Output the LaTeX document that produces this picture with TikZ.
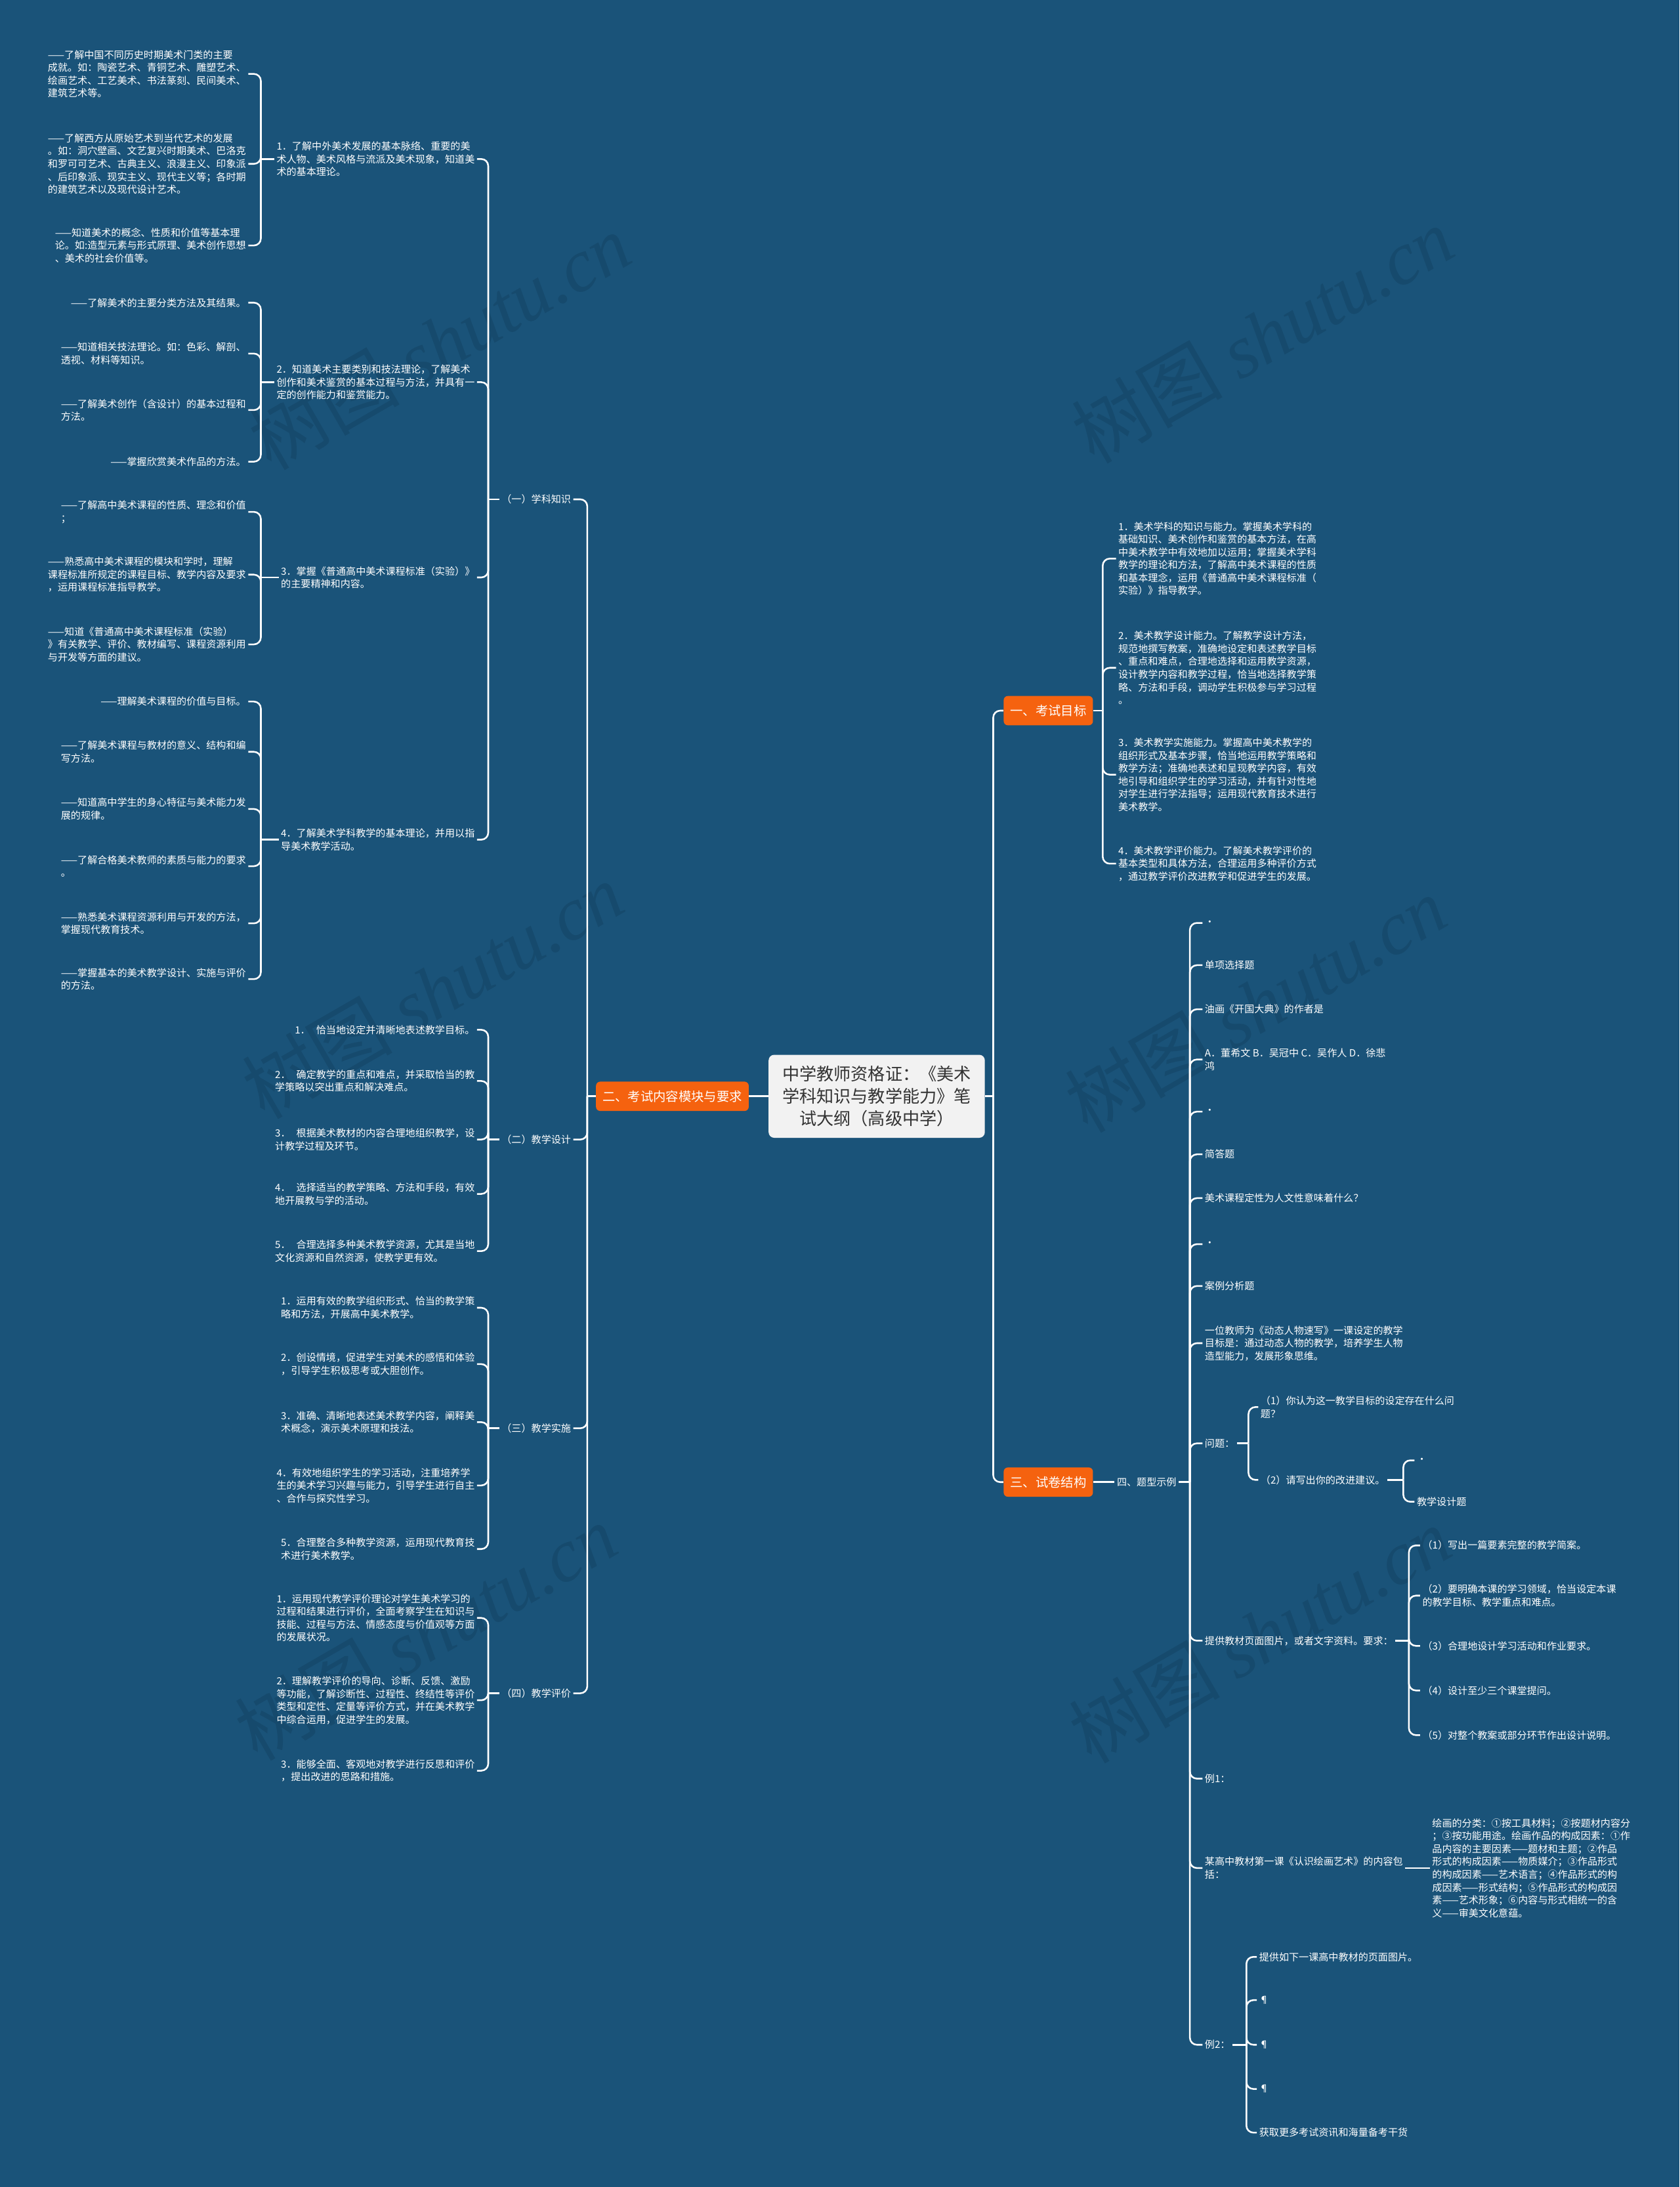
\documentclass[tikz,border=0pt]{standalone}
\usepackage{fontspec}
\setmainfont{Noto Sans CJK SC}
\newfontfamily\wmfont{Liberation Serif}
\definecolor{bgblue}{HTML}{1A5379}
\definecolor{wmblue}{HTML}{164A6D}
\definecolor{topicorange}{HTML}{F5620F}
\definecolor{rootgray}{HTML}{F2F2F2}
\definecolor{roottext}{HTML}{333333}

\begin{document}
\begin{tikzpicture}[x=1pt, y=-1pt,
    link/.style={draw=white, line width=1.2pt, rounded corners=5pt},
    txt/.style={text=white, align=left, inner sep=1.5pt, font=\fontsize{7.1}{9.2}\selectfont},
    lft/.style={txt, anchor=east},
    rgt/.style={txt, anchor=west},
    topic/.style={fill=topicorange, text=white, rounded corners=3pt, inner xsep=4.7pt,
        minimum height=21pt, font=\fontsize{9.1}{11}\selectfont},
    rootbox/.style={fill=rootgray, text=roottext, rounded corners=4pt, minimum width=155pt,
        minimum height=59.5pt, align=center, font=\fontsize{12.3}{16}\selectfont},
    wmark/.style={text=wmblue, rotate=30, font=\fontsize{54}{54}\selectfont}]

    \fill[bgblue] (0,0) rectangle (1204,1568);
    \useasboundingbox (0,0) rectangle (1204,1568);

    % Watermarks
    \foreach \wx/\wy [count=\i] in {315/245, 905/240, 310/710, 900/720, 305/1170, 903/1172}
        \node[wmark] (wm\i) at (\wx,\wy) {树图 {\wmfont\itshape shutu.cn}};

    % Root and main topics
    \node[rootbox] (root) at (628.5,786) {中学教师资格证：《美术\\学科知识与教学能力》笔\\试大纲（高级中学）};
    \node[topic] (goal) at (751.5,509.5) {一、考试目标};
    \node[topic] (content) at (482,786) {二、考试内容模块与要求};
    \node[topic] (paper) at (751.5,1062.6) {三、试卷结构};
    \coordinate (jr) at (712,786);
    \coordinate (jl) at (421,786);
    \draw[link] (root.west) -- (content.east);
    \draw[link] (root.east) -- (jr);
    \draw[link] (jr) |- (goal.west);
    \draw[link] (jr) |- (paper.west);
    \draw[link] (content.west) -- (jl);

    % Sections of topic two
    \node[lft] (sec1) at (411,358) {（一）学科知识};
    \node[lft] (sec2) at (411,817) {（二）教学设计};
    \node[lft] (sec3) at (411,1024) {（三）教学实施};
    \node[lft] (sec4) at (411,1214) {（四）教学评价};
    \foreach \n in {sec1,sec2,sec3,sec4}
        \draw[link] (jl) |- (\n.east);

    % (一) subject knowledge
    \node[lft] (k1) at (342,114) {1．了解中外美术发展的基本脉络、重要的美\\术人物、美术风格与流派及美术现象，知道美\\术的基本理论。};
    \node[lft] (k2) at (342,274) {2．知道美术主要类别和技法理论，了解美术\\创作和美术鉴赏的基本过程与方法，并具有一\\定的创作能力和鉴赏能力。};
    \node[lft] (k3) at (342,414) {3．掌握《普通高中美术课程标准（实验）》\\的主要精神和内容。};
    \node[lft] (k4) at (342,602) {4．了解美术学科教学的基本理论，并用以指\\导美术教学活动。};
    \coordinate (j1) at (350,358);
    \draw[link] (sec1.west) -- (j1);
    \foreach \n in {k1,k2,k3,k4}
        \draw[link] (j1) |- (\n.east);

    \node[lft] (l1a) at (178,53) {——了解中国不同历史时期美术门类的主要\\成就。如：陶瓷艺术、青铜艺术、雕塑艺术、\\绘画艺术、工艺美术、书法篆刻、民间美术、\\建筑艺术等。};
    \node[lft] (l1b) at (178,117.5) {——了解西方从原始艺术到当代艺术的发展\\。如：洞穴壁画、文艺复兴时期美术、巴洛克\\和罗可可艺术、古典主义、浪漫主义、印象派\\、后印象派、现实主义、现代主义等；各时期\\的建筑艺术以及现代设计艺术。};
    \node[lft] (l1c) at (178,176) {——知道美术的概念、性质和价值等基本理\\论。如:造型元素与形式原理、美术创作思想\\、美术的社会价值等。};
    \coordinate (jk1) at (187,114);
    \draw[link] (k1.west) -- (jk1);
    \foreach \n in {l1a,l1b,l1c}
        \draw[link] (jk1) |- (\n.east);

    \node[lft] (l2a) at (178,217) {——了解美术的主要分类方法及其结果。};
    \node[lft] (l2b) at (178,253.5) {——知道相关技法理论。如：色彩、解剖、\\透视、材料等知识。};
    \node[lft] (l2c) at (178,294) {——了解美术创作（含设计）的基本过程和\\方法。};
    \node[lft] (l2d) at (178,331) {——掌握欣赏美术作品的方法。};
    \coordinate (jk2) at (187,274);
    \draw[link] (k2.west) -- (jk2);
    \foreach \n in {l2a,l2b,l2c,l2d}
        \draw[link] (jk2) |- (\n.east);

    \node[lft] (l3a) at (178,367) {——了解高中美术课程的性质、理念和价值\\；};
    \node[lft] (l3b) at (178,412) {——熟悉高中美术课程的模块和学时，理解\\课程标准所规定的课程目标、教学内容及要求\\，运用课程标准指导教学。};
    \node[lft] (l3c) at (178,462) {——知道《普通高中美术课程标准（实验）\\》有关教学、评价、教材编写、课程资源利用\\与开发等方面的建议。};
    \coordinate (jk3) at (187,414);
    \draw[link] (k3.west) -- (jk3);
    \foreach \n in {l3a,l3b,l3c}
        \draw[link] (jk3) |- (\n.east);

    \node[lft] (l4a) at (178,503) {——理解美术课程的价值与目标。};
    \node[lft] (l4b) at (178,539) {——了解美术课程与教材的意义、结构和编\\写方法。};
    \node[lft] (l4c) at (178,580) {——知道高中学生的身心特征与美术能力发\\展的规律。};
    \node[lft] (l4d) at (178,621) {——了解合格美术教师的素质与能力的要求\\。};
    \node[lft] (l4e) at (178,662) {——熟悉美术课程资源利用与开发的方法，\\掌握现代教育技术。};
    \node[lft] (l4f) at (178,702) {——掌握基本的美术教学设计、实施与评价\\的方法。};
    \coordinate (jk4) at (187,602);
    \draw[link] (k4.west) -- (jk4);
    \foreach \n in {l4a,l4b,l4c,l4d,l4e,l4f}
        \draw[link] (jk4) |- (\n.east);

    % (二) teaching design
    \node[lft] (m1) at (342,738.3) {1．\hspace{.6em}恰当地设定并清晰地表述教学目标。};
    \node[lft] (m2) at (342,775) {2．\hspace{.6em}确定教学的重点和难点，并采取恰当的教\\学策略以突出重点和解决难点。};
    \node[lft] (m3) at (342,817) {3．\hspace{.6em}根据美术教材的内容合理地组织教学，设\\计教学过程及环节。};
    \node[lft] (m4) at (342,856) {4．\hspace{.6em}选择适当的教学策略、方法和手段，有效\\地开展教与学的活动。};
    \node[lft] (m5) at (342,897) {5．\hspace{.6em}合理选择多种美术教学资源，尤其是当地\\文化资源和自然资源，使教学更有效。};
    \coordinate (j2) at (350,817);
    \draw[link] (sec2.west) -- (j2);
    \foreach \n in {m1,m2,m3,m4,m5}
        \draw[link] (j2) |- (\n.east);

    % (三) teaching practice
    \node[lft] (n1) at (342,937.6) {1．运用有效的教学组织形式、恰当的教学策\\略和方法，开展高中美术教学。};
    \node[lft] (n2) at (342,978) {2．创设情境，促进学生对美术的感悟和体验\\，引导学生积极思考或大胆创作。};
    \node[lft] (n3) at (342,1019.6) {3．准确、清晰地表述美术教学内容，阐释美\\术概念，演示美术原理和技法。};
    \node[lft] (n4) at (342,1065) {4．有效地组织学生的学习活动，注重培养学\\生的美术学习兴趣与能力，引导学生进行自主\\、合作与探究性学习。};
    \node[lft] (n5) at (342,1110.6) {5．合理整合多种教学资源，运用现代教育技\\术进行美术教学。};
    \coordinate (j3) at (350,1024);
    \draw[link] (sec3.west) -- (j3);
    \foreach \n in {n1,n2,n3,n4,n5}
        \draw[link] (j3) |- (\n.east);

    % (四) teaching evaluation
    \node[lft] (p1) at (342,1160) {1．运用现代教学评价理论对学生美术学习的\\过程和结果进行评价，全面考察学生在知识与\\技能、过程与方法、情感态度与价值观等方面\\的发展状况。};
    \node[lft] (p2) at (342,1219) {2．理解教学评价的导向、诊断、反馈、激励\\等功能，了解诊断性、过程性、终结性等评价\\类型和定性、定量等评价方式，并在美术教学\\中综合运用，促进学生的发展。};
    \node[lft] (p3) at (342,1269.5) {3．能够全面、客观地对教学进行反思和评价\\，提出改进的思路和措施。};
    \coordinate (j4) at (350,1214);
    \draw[link] (sec4.west) -- (j4);
    \foreach \n in {p1,p2,p3}
        \draw[link] (j4) |- (\n.east);

    % Topic one: exam goals
    \node[rgt] (r1) at (800,400.5) {1．美术学科的知识与能力。掌握美术学科的\\基础知识、美术创作和鉴赏的基本方法，在高\\中美术教学中有效地加以运用；掌握美术学科\\教学的理论和方法，了解高中美术课程的性质\\和基本理念，运用《普通高中美术课程标准（\\实验）》指导教学。};
    \node[rgt] (r2) at (800,478.8) {2．美术教学设计能力。了解教学设计方法，\\规范地撰写教案，准确地设定和表述教学目标\\、重点和难点，合理地选择和运用教学资源，\\设计教学内容和教学过程，恰当地选择教学策\\略、方法和手段，调动学生积极参与学习过程\\。};
    \node[rgt] (r3) at (800,555.4) {3．美术教学实施能力。掌握高中美术教学的\\组织形式及基本步骤，恰当地运用教学策略和\\教学方法；准确地表述和呈现教学内容，有效\\地引导和组织学生的学习活动，并有针对性地\\对学生进行学法指导；运用现代教育技术进行\\美术教学。};
    \node[rgt] (r4) at (800,619.2) {4．美术教学评价能力。了解美术教学评价的\\基本类型和具体方法，合理运用多种评价方式\\，通过教学评价改进教学和促进学生的发展。};
    \coordinate (jg) at (790.5,509.5);
    \draw[link] (goal.east) -- (jg);
    \foreach \n in {r1,r2,r3,r4}
        \draw[link] (jg) |- (\n.west);

    % Topic three: paper structure
    \node[rgt] (type) at (799,1062.6) {四、题型示例};
    \draw[link] (paper.east) -- (type.west);
    \node[rgt] (q1) at (862,661.7) {·};
    \node[rgt] (q2) at (862,692) {单项选择题};
    \node[rgt] (q3) at (862,723.6) {油画《开国大典》的作者是};
    \node[rgt] (q4) at (862,759.6) {A．董希文 B．吴冠中 C．吴作人 D．徐悲\\鸿};
    \node[rgt] (q5) at (862,797) {·};
    \node[rgt] (q6) at (862,827.6) {简答题};
    \node[rgt] (q7) at (862,859) {美术课程定性为人文性意味着什么？};
    \node[rgt] (q8) at (862,892) {·};
    \node[rgt] (q9) at (862,922) {案例分析题};
    \node[rgt] (q10) at (862,963) {一位教师为《动态人物速写》一课设定的教学\\目标是：通过动态人物的教学，培养学生人物\\造型能力，发展形象思维。};
    \node[rgt] (q11) at (862,1034.8) {问题：};
    \node[rgt] (q12) at (862,1176.3) {提供教材页面图片，或者文字资料。要求：};
    \node[rgt] (q13) at (862,1275.2) {例1：};
    \node[rgt] (q14) at (862,1339.3) {某高中教材第一课《认识绘画艺术》的内容包\\括：};
    \node[rgt] (q15) at (862,1466) {例2：};
    \coordinate (jt) at (853,1062.6);
    \draw[link] (type.east) -- (jt);
    \foreach \n in {q1,q2,q3,q4,q5,q6,q7,q8,q9,q10,q11,q12,q13,q14,q15}
        \draw[link] (jt) |- (\n.west);

    % Questions
    \node[rgt] (q11a) at (902,1008.8) {（1）你认为这一教学目标的设定存在什么问\\题？};
    \node[rgt] (q11b) at (902,1061) {（2）请写出你的改进建议。};
    \coordinate (jq11) at (895,1034.8);
    \draw[link] (q11.east) -- (jq11);
    \foreach \n in {q11a,q11b}
        \draw[link] (jq11) |- (\n.west);

    \node[rgt] (q11c) at (1014,1047) {·};
    \node[rgt] (q11d) at (1014,1076.7) {教学设计题};
    \coordinate (jq11b) at (1006,1061);
    \draw[link] (q11b.east) -- (jq11b);
    \foreach \n in {q11c,q11d}
        \draw[link] (jq11b) |- (\n.west);

    % Requirements
    \node[rgt] (q12a) at (1018,1108) {（1）写出一篇要素完整的教学简案。};
    \node[rgt] (q12b) at (1018,1144) {（2）要明确本课的学习领域，恰当设定本课\\的教学目标、教学重点和难点。};
    \node[rgt] (q12c) at (1018,1180) {（3）合理地设计学习活动和作业要求。};
    \node[rgt] (q12d) at (1018,1212) {（4）设计至少三个课堂提问。};
    \node[rgt] (q12e) at (1018,1244) {（5）对整个教案或部分环节作出设计说明。};
    \coordinate (jq12) at (1010,1176.3);
    \draw[link] (q12.east) -- (jq12);
    \foreach \n in {q12a,q12b,q12c,q12d,q12e}
        \draw[link] (jq12) |- (\n.west);

    % Example 1
    \node[rgt] (q14a) at (1025,1339.3) {绘画的分类：①按工具材料；②按题材内容分\\；③按功能用途。绘画作品的构成因素：①作\\品内容的主要因素——题材和主题；②作品\\形式的构成因素——物质媒介；③作品形式\\的构成因素——艺术语言；④作品形式的构\\成因素——形式结构；⑤作品形式的构成因\\素——艺术形象；⑥内容与形式相统一的含\\义——审美文化意蕴。};
    \draw[link] (q14.east) -- (q14a.west);

    % Example 2
    \node[rgt] (q15a) at (901,1403) {提供如下一课高中教材的页面图片。};
    \node[rgt] (q15b) at (901,1434) {\scriptsize ¶};
    \node[rgt] (q15c) at (901,1466) {\scriptsize ¶};
    \node[rgt] (q15d) at (901,1497.7) {\scriptsize ¶};
    \node[rgt] (q15e) at (901,1529) {获取更多考试资讯和海量备考干货};
    \coordinate (jq15) at (893.5,1466);
    \draw[link] (q15.east) -- (jq15);
    \foreach \n in {q15a,q15b,q15c,q15d,q15e}
        \draw[link] (jq15) |- (\n.west);
\end{tikzpicture}
\end{document}
